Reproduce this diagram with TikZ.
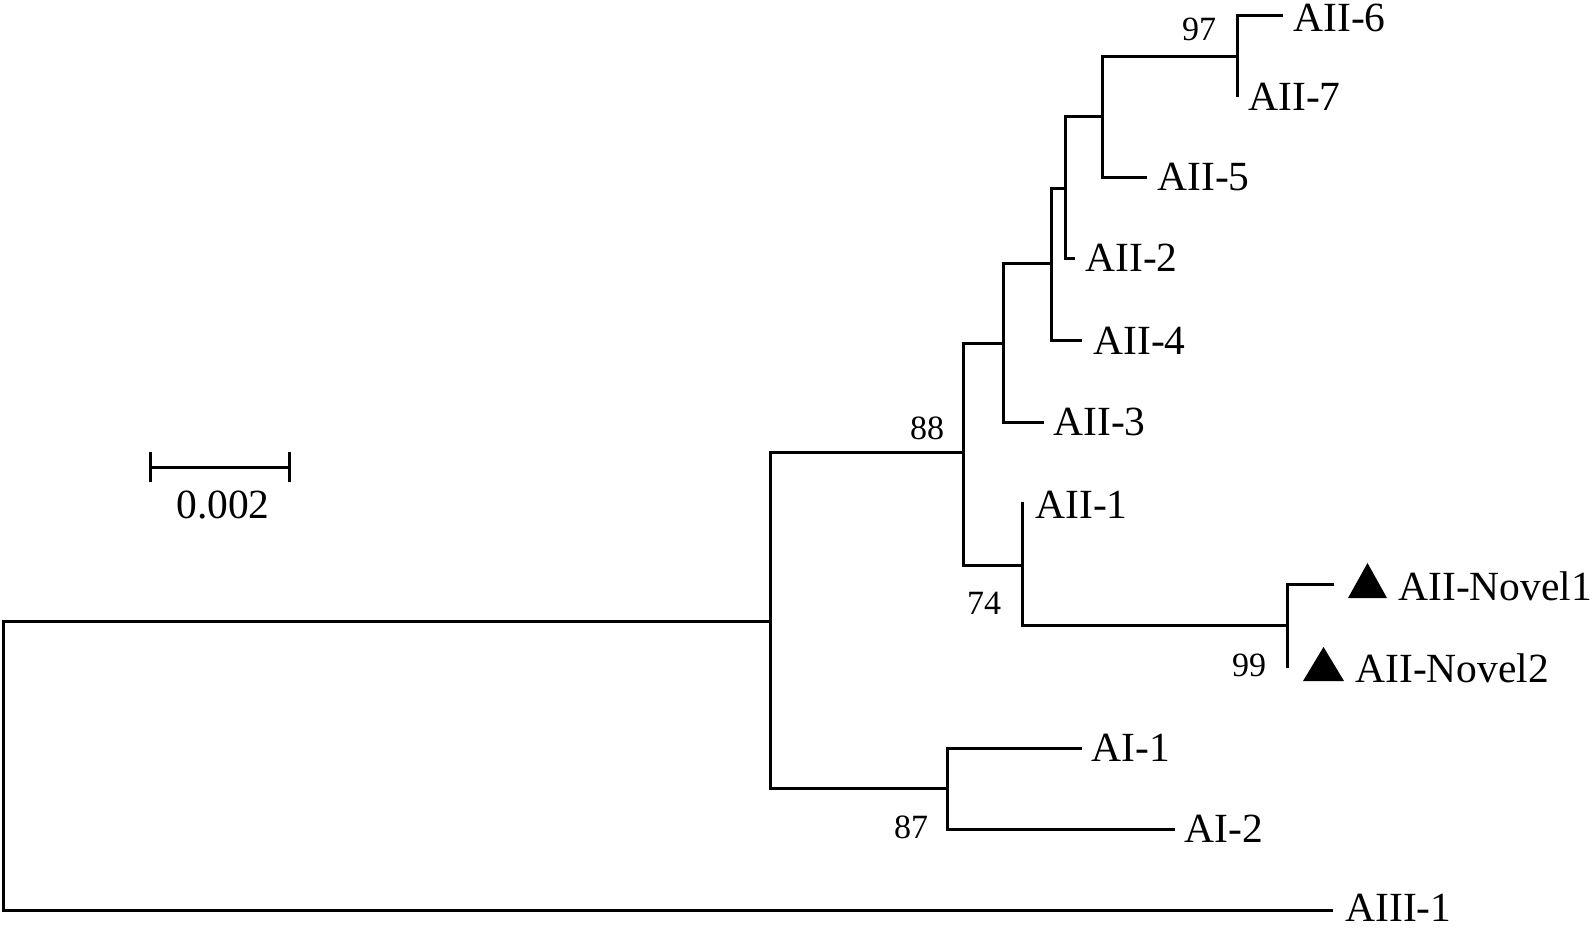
\documentclass[tikz,border=0pt]{standalone}
\usepackage{fontspec}
\setmainfont{Liberation Serif}
\begin{document}
\begin{tikzpicture}[x=0.5pt,y=-0.5pt,
  branch/.style={line width=1.5pt, line join=miter},
  taxon/.style={anchor=west, inner sep=0pt, font=\fontsize{20.75}{24}\selectfont},
  boot/.style={inner sep=0pt, font=\fontsize{17}{20}\selectfont},
  novelmark/.style={fill=black}]
\useasboundingbox (0,0) rectangle (1594,927);
% internal nodes and tips
\coordinate (root) at (3,765);
\coordinate (nI) at (770,621);
\coordinate (n88) at (963,452);
\coordinate (nD) at (1003,343);
\coordinate (nC) at (1051,263);
\coordinate (nB) at (1065,188);
\coordinate (nA) at (1102,116);
\coordinate (n97) at (1237,56);
\coordinate (t6) at (1283,15);
\coordinate (t7) at (1237,97);
\coordinate (t5) at (1147,177);
\coordinate (t2) at (1075,258);
\coordinate (t4) at (1082,340);
\coordinate (t3) at (1044,422);
\coordinate (n74) at (1022,565);
\coordinate (t1) at (1024,503);
\coordinate (n99) at (1287,625);
\coordinate (tN1) at (1334,584);
\coordinate (tN2) at (1287,668);
\coordinate (n87) at (947,788);
\coordinate (tA1) at (1082,748);
\coordinate (tA2) at (1175,829);
\coordinate (tIII) at (1333,910);
% branches
\draw[branch] (root) |- (nI);
\draw[branch] (root) |- (tIII);
\draw[branch] (nI) |- (n88);
\draw[branch] (nI) |- (n87);
\draw[branch] (n88) |- (nD);
\draw[branch] (n88) |- (n74);
\draw[branch] (nD) |- (nC);
\draw[branch] (nD) |- (t3);
\draw[branch] (nC) |- (nB);
\draw[branch] (nC) |- (t4);
\draw[branch] (nB) |- (nA);
\draw[branch] (nB) |- (t2);
\draw[branch] (nA) |- (n97);
\draw[branch] (nA) |- (t5);
\draw[branch] (n97) |- (t6);
\draw[branch] (n97) |- (t7);
\draw[branch] (n74) |- (t1);
\draw[branch] (n74) |- (n99);
\draw[branch] (n99) |- (tN1);
\draw[branch] (n99) |- (tN2);
\draw[branch] (n87) |- (tA1);
\draw[branch] (n87) |- (tA2);
% taxon labels
\node[taxon] (l6) at (1293,18) {AII-6};
\node[taxon] (l7) at (1248,97) {AII-7};
\node[taxon] (l5) at (1157,177) {AII-5};
\node[taxon] (l2) at (1085,258) {AII-2};
\node[taxon] (l4) at (1093,341) {AII-4};
\node[taxon] (l3) at (1053,422) {AII-3};
\node[taxon] (l1) at (1035,505) {AII-1};
\node[taxon] (lN1) at (1398,586) {AII-Novel1};
\node[taxon] (lN2) at (1355,668) {AII-Novel2};
\node[taxon] (lA1) at (1091,748) {AI-1};
\node[taxon] (lA2) at (1184,829) {AI-2};
\node[taxon] (lIII) at (1345,908) {AIII-1};
% novel markers
\fill[novelmark] (1348,598) -- (1367.5,563) -- (1387,598) -- cycle;
\fill[novelmark] (1303,681) -- (1323.5,647) -- (1344,681) -- cycle;
% bootstrap values
\node[boot] (b97) at (1199,29) {97};
\node[boot] (b88) at (927,428) {88};
\node[boot] (b74) at (984,603) {74};
\node[boot] (b99) at (1249,665) {99};
\node[boot] (b87) at (911,827) {87};
% scale bar
\coordinate (sL) at (150,467);
\coordinate (sR) at (289,467);
\draw[branch] (sL) -- (sR);
\draw[branch] ([yshift=7.5pt]sL) -- ([yshift=-7.5pt]sL);
\draw[branch] ([yshift=7.5pt]sR) -- ([yshift=-7.5pt]sR);
\node[inner sep=0pt, font=\fontsize{20.75}{24}\selectfont] (sc) at (223,505) {0.002};
\end{tikzpicture}
\end{document}
